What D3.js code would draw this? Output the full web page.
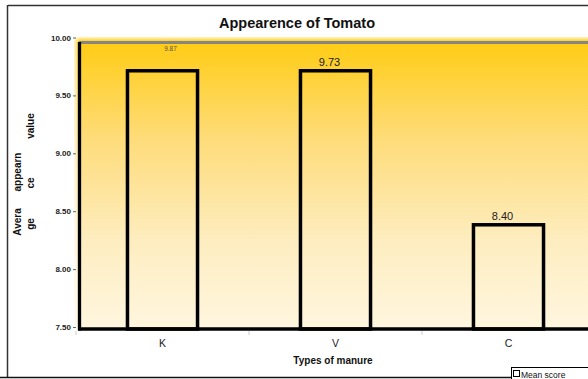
<!DOCTYPE html>
<html>
<head>
<meta charset="utf-8">
<script src="https://cdn.jsdelivr.net/npm/d3@7"></script>
<style>
  html, body { margin: 0; padding: 0; background: #fff; }
  svg { display: block; font-family: "Liberation Sans", Arial, sans-serif; }
</style>
</head>
<body>
<svg id="chart" width="588" height="379"></svg>
<script>
// Mean appearance score per manure type
const categories = ["K", "V", "C"];
const meanScore = [9.73, 9.73, 8.40];
const valueLabels = ["", "9.73", "8.40"];
const peakNote = { category: "K", value: 9.87, text: "9.87" };
const yTicks = [7.5, 8.0, 8.5, 9.0, 9.5, 10.0];

const svg = d3.select("#chart");
const W = 588, H = 379;

const plot = { left: 79, top: 39.5, bottom: 329 };
const bgTop = 37;

const y = d3.scaleLinear().domain([7.5, 10.0]).range([plot.bottom, plot.top]);
const x = d3.scaleBand().domain(categories).range([76, 595]).paddingInner(0.595).paddingOuter(0.2975);

// Background gradient of the plotting area
const defs = svg.append("defs");
const grad = defs.append("linearGradient").attr("id", "bg").attr("x1", 0).attr("y1", 0).attr("x2", 0).attr("y2", 1);
grad.append("stop").attr("offset", "0%").attr("stop-color", "#fff6c8");
grad.append("stop").attr("offset", "1.5%").attr("stop-color", "#ffcc14");
grad.append("stop").attr("offset", "35%").attr("stop-color", "#fedc7a");
grad.append("stop").attr("offset", "70%").attr("stop-color", "#fdedc0");
grad.append("stop").attr("offset", "100%").attr("stop-color", "#fff6df");

const gradL = defs.append("linearGradient").attr("id", "edge").attr("x1", 0).attr("y1", 0).attr("x2", 1).attr("y2", 0);
gradL.append("stop").attr("offset", "0%").attr("stop-color", "#fff").attr("stop-opacity", 0.8);
gradL.append("stop").attr("offset", "100%").attr("stop-color", "#fff").attr("stop-opacity", 0);

// Outer frame lines
svg.append("line").attr("x1", 8).attr("x2", W).attr("y1", 5.5).attr("y2", 5.5).attr("stroke", "#333").attr("stroke-width", 1.5);
svg.append("line").attr("x1", 7.5).attr("x2", 7.5).attr("y1", 5).attr("y2", 377).attr("stroke", "#333").attr("stroke-width", 1.5);
svg.append("line").attr("x1", 0).attr("x2", W).attr("y1", 377.5).attr("y2", 377.5).attr("stroke", "#111").attr("stroke-width", 1.5);

// Title
svg.append("text").attr("x", 297).attr("y", 28).attr("text-anchor", "middle")
  .attr("font-size", 14.5).attr("font-weight", "bold").attr("fill", "#111").text("Appearence of Tomato");

// Plot background
svg.append("rect").attr("x", 74).attr("y", bgTop).attr("width", W - 74).attr("height", plot.bottom - bgTop)
  .attr("fill", "url(#bg)");
svg.append("rect").attr("x", 74).attr("y", bgTop).attr("width", 6).attr("height", plot.bottom - bgTop)
  .attr("fill", "url(#edge)");

// Top grey rule
svg.append("line").attr("x1", 79).attr("x2", W).attr("y1", 42.5).attr("y2", 42.5).attr("stroke", "#858585").attr("stroke-width", 3);

// Bars (outlined)
svg.append("g").selectAll("rect").data(categories).join("rect")
  .attr("x", d => x(d))
  .attr("y", (d, i) => y(meanScore[i]))
  .attr("width", x.bandwidth())
  .attr("height", (d, i) => plot.bottom - y(meanScore[i]))
  .attr("fill", "none").attr("stroke", "#000").attr("stroke-width", 3.5);

// Value labels
svg.append("g").selectAll("text").data(categories).join("text")
  .attr("x", d => x(d) + x.bandwidth() / 2 - 6)
  .attr("y", (d, i) => y(meanScore[i]) - 5)
  .attr("text-anchor", "middle").attr("font-size", 11).attr("fill", "#222")
  .text((d, i) => valueLabels[i]);

svg.append("text")
  .attr("x", x(peakNote.category) + x.bandwidth() / 2 + 8)
  .attr("y", y(peakNote.value) - 4)
  .attr("text-anchor", "middle").attr("font-size", 6.5).attr("fill", "#555")
  .text(peakNote.text);

// Axis lines
svg.append("line").attr("x1", 79.5).attr("x2", 79.5).attr("y1", 42).attr("y2", plot.bottom + 1.5).attr("stroke", "#000").attr("stroke-width", 3.3);
svg.append("line").attr("x1", 78).attr("x2", W).attr("y1", plot.bottom).attr("y2", plot.bottom).attr("stroke", "#000").attr("stroke-width", 3.5);

// Y axis
const yAxis = d3.axisLeft(y).tickValues(yTicks).tickFormat(d3.format(".2f")).tickSize(3).tickPadding(2);
const gy = svg.append("g").attr("transform", "translate(76,-2)").call(yAxis);
gy.select(".domain").remove();
gy.selectAll("text").attr("font-size", 8).attr("font-weight", "bold").attr("fill", "#222").attr("font-family", "Liberation Sans, Arial, sans-serif");
gy.selectAll("line").attr("stroke", "#666");

// X axis labels and boundary marks
const xAxis = d3.axisBottom(x).tickSize(0).tickPadding(11);
const gx = svg.append("g").attr("transform", `translate(0,${plot.bottom})`).call(xAxis);
gx.select(".domain").remove();
gx.selectAll("text").attr("font-size", 10.5).attr("fill", "#222").attr("font-family", "Liberation Sans, Arial, sans-serif");

svg.append("g").selectAll("line").data(categories).join("line")
  .attr("x1", d => x(d) - x.step() * x.paddingInner() / 2)
  .attr("x2", d => x(d) - x.step() * x.paddingInner() / 2)
  .attr("y1", plot.bottom + 2).attr("y2", plot.bottom + 6)
  .attr("stroke", "#ccc").attr("stroke-width", 1);

// Axis titles
svg.append("text").attr("x", 333).attr("y", 364).attr("text-anchor", "middle")
  .attr("font-size", 10).attr("font-weight", "bold").attr("fill", "#111").text("Types of manure");

const yTitleParts = [
  { text: "Avera", col: 21, mid: 222 },
  { text: "ge", col: 34, mid: 224 },
  { text: "appearn", col: 21, mid: 172 },
  { text: "ce", col: 34, mid: 183 },
  { text: "value", col: 34, mid: 126 }
];
svg.append("g").selectAll("text").data(yTitleParts).join("text")
  .attr("transform", d => `translate(${d.col},${d.mid}) rotate(-90)`)
  .attr("text-anchor", "middle").attr("font-size", 10).attr("font-weight", "bold").attr("fill", "#111")
  .text(d => d.text);

// Legend
const lg = svg.append("g").attr("transform", "translate(511,367)");
lg.append("rect").attr("x", 0.5).attr("y", 0.5).attr("width", 90).attr("height", 14).attr("fill", "#fff").attr("stroke", "#000").attr("stroke-width", 1);
lg.append("rect").attr("x", 2.5).attr("y", 3.5).attr("width", 6).attr("height", 6).attr("fill", "#fff").attr("stroke", "#000").attr("stroke-width", 1);
lg.append("text").attr("x", 10).attr("y", 10.5).attr("font-size", 8.5).attr("fill", "#111").text("Mean score");
</script>
</body>
</html>
